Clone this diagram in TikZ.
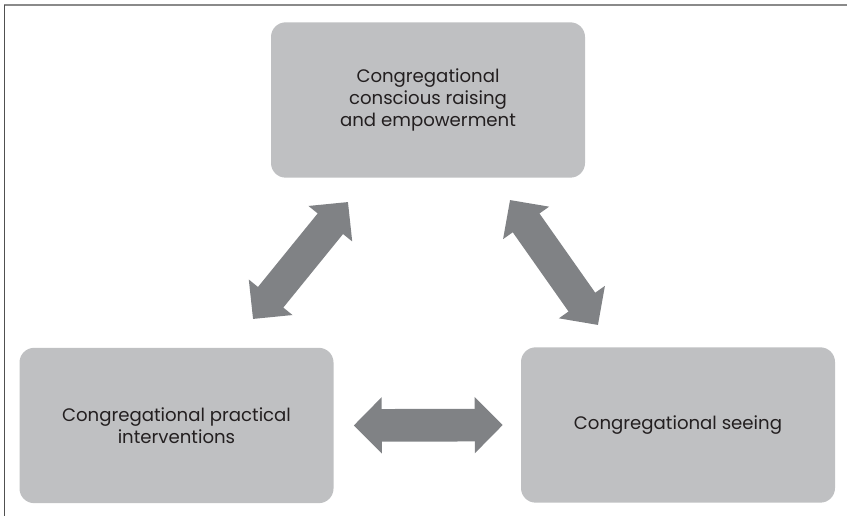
\documentclass[tikz,border=0pt]{standalone}
\usepackage{fontspec}
\setmainfont{Poppins}
\usetikzlibrary{arrows.meta}
\definecolor{boxgray}{HTML}{BFC0C2}
\definecolor{arrowgray}{HTML}{808285}
\definecolor{textdark}{HTML}{231F20}
\definecolor{framegray}{HTML}{8A8A8A}
\definecolor{framedark}{HTML}{505050}
\tikzset{
  stagebox/.style={fill=boxgray, draw=none, rounded corners=11pt, minimum width=235.5pt, minimum height=116.5pt, align=center, text=textdark, font=\fontsize{13.6}{16.8}\selectfont},
  bigarrow/.style={draw=arrowgray, line width=24.5pt, {Triangle[length=21pt,width=41pt]}-{Triangle[length=21pt,width=41pt]}}
}
\begin{document}
\begin{tikzpicture}[x=0.75pt,y=-0.75pt]
\useasboundingbox (0,0) rectangle (847,516);
\draw[framegray, line width=1.5pt] (4,5.5) -- (847,5.5);
\draw[framedark, line width=1pt] (4.5,5) -- (4.5,516);
\node[stagebox] (top) at (428,100) {Congregational\\conscious raising\\and empowerment};
\node[stagebox] (left) at (176.5,425.5) {Congregational practical\\interventions};
\node[stagebox] (right) at (678,425) {Congregational seeing};
\coordinate (la) at (253,319);
\coordinate (lb) at (348,202);
\coordinate (ra) at (510,200);
\coordinate (rb) at (598,325);
\draw[bigarrow] (la) -- (lb);
\draw[bigarrow] (ra) -- (rb);
\draw[bigarrow, shorten <=15pt, shorten >=13.5pt] (left.east) -- (right.west);
\end{tikzpicture}
\end{document}
